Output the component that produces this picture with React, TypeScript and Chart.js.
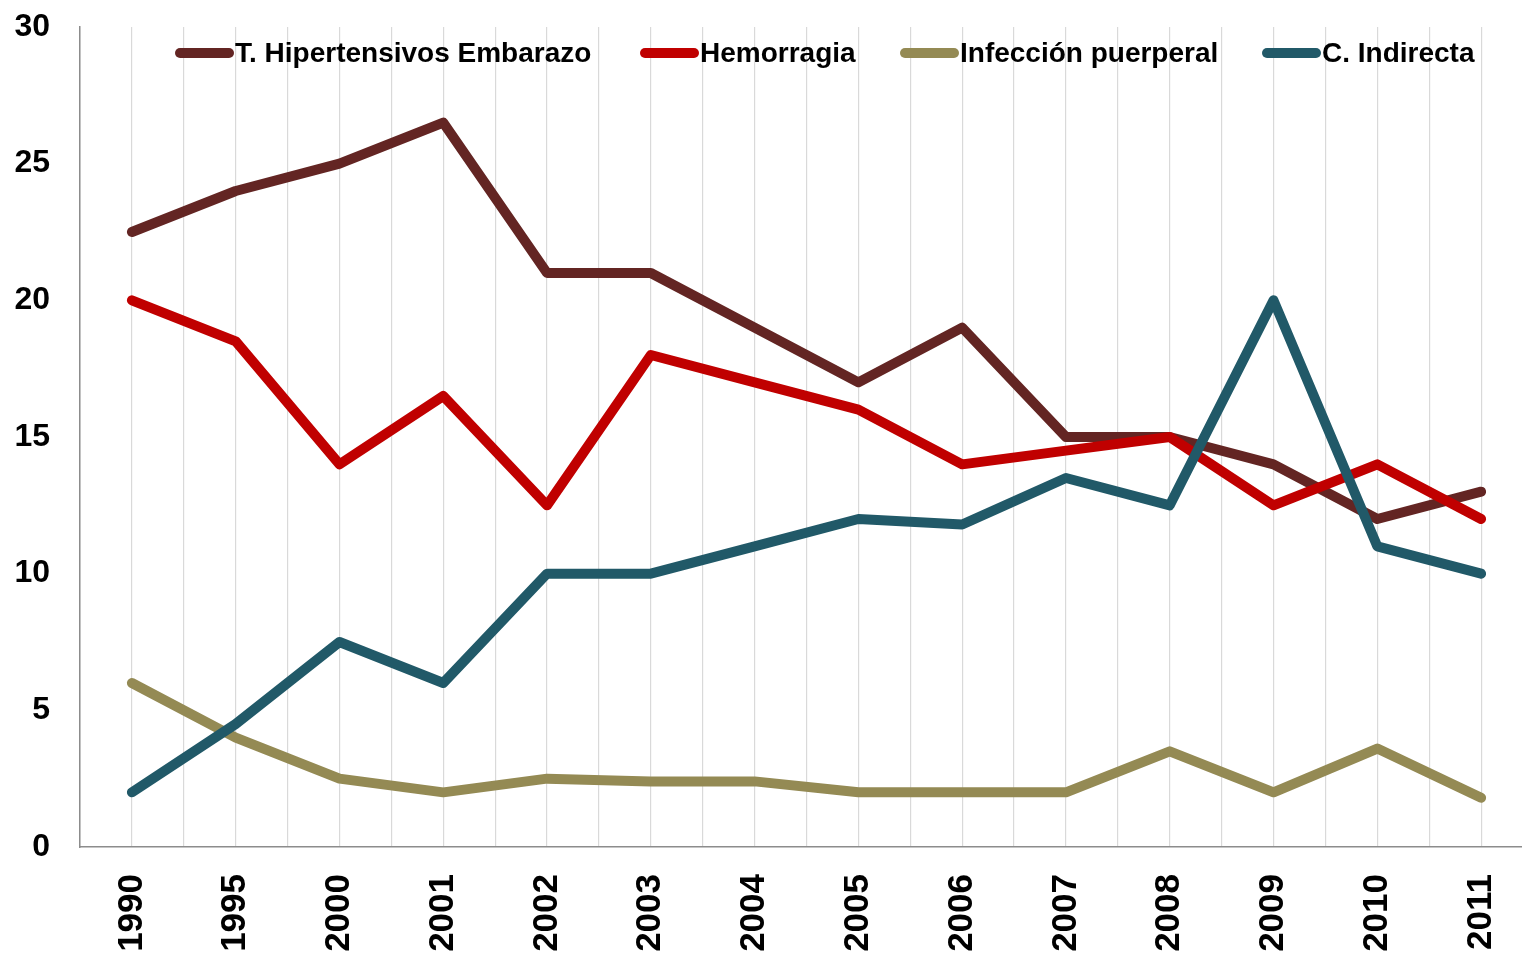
import React, { useEffect, useRef } from "react";
import { Chart, registerables } from "chart.js";

Chart.register(...registerables);

const years = ["1990", "1995", "2000", "2001", "2002", "2003", "2004", "2005", "2006", "2007", "2008", "2009", "2010", "2011"];
const hipertensivos = [22.5, 24, 25, 26.5, 21, 21, 19, 17, 19, 15, 15, 14, 12, 13];
const hemorragia = [20, 18.5, 14, 16.5, 12.5, 18, 17, 16, 14, 14.5, 15, 12.5, 14, 12];
const infeccion = [6, 4, 2.5, 2, 2.5, 2.4, 2.4, 2, 2, 2, 3.5, 2, 3.6, 1.8];
const indirecta = [2, 4.5, 7.5, 6, 10, 10, 11, 12, 11.8, 13.5, 12.5, 20, 11, 10];

const seriesNames = ["T. Hipertensivos Embarazo", "Hemorragia", "Infección puerperal", "C. Indirecta"];
const seriesColors = ["#632523", "#C00000", "#948A54", "#215968"];
const seriesData = [hipertensivos, hemorragia, infeccion, indirecta];

const yMin = 0;
const yMax = 30;
const yStep = 5;

const FONT = "'Liberation Sans', Arial, Helvetica, sans-serif";
const legendLeft = [175, 640, 900, 1262];

export default function App() {
  const canvasRef = useRef<HTMLCanvasElement | null>(null);

  useEffect(() => {
    if (!canvasRef.current) return;
    const zeroPad = (axis: any) => {
      axis.paddingTop = 0;
      axis.paddingBottom = 0;
      axis.paddingLeft = 0;
      axis.paddingRight = 0;
    };
    const chart = new Chart(canvasRef.current, {
      type: "line",
      data: {
        labels: years,
        datasets: seriesData.map((d, i) => ({
          label: seriesNames[i],
          data: d,
          borderColor: seriesColors[i],
          backgroundColor: seriesColors[i],
          borderWidth: 10,
          borderCapStyle: "round" as const,
          borderJoinStyle: "round" as const,
          pointRadius: 0,
          tension: 0,
          order: seriesData.length - 1 - i,
          xAxisID: "x",
        })),
      },
      options: {
        responsive: false,
        animation: false,
        layout: { padding: { top: 27, left: 14, right: 2, bottom: 0 } },
        plugins: { legend: { display: false }, tooltip: { enabled: false } },
        scales: {
          x: {
            type: "category",
            offset: true,
            grid: { display: false, drawTicks: false },
            border: { display: true, color: "#8C8C8C", width: 1.5 },
            ticks: {
              minRotation: 90,
              maxRotation: 90,
              padding: 27,
              color: "#000",
              font: { family: FONT, size: 35, weight: "bold" },
            },
            afterFit: (axis: any) => {
              axis.height = 109;
              zeroPad(axis);
            },
          } as any,
          xg: {
            type: "linear",
            position: "bottom",
            min: -0.5,
            max: years.length - 0.5,
            ticks: { display: false, stepSize: 0.5 },
            grid: { display: true, color: "#D9D9D9", lineWidth: 1.2, drawTicks: false },
            border: { display: false },
            afterFit: (axis: any) => {
              axis.height = 0;
              zeroPad(axis);
            },
          } as any,
          y: {
            min: yMin,
            max: yMax,
            ticks: {
              stepSize: yStep,
              padding: 30,
              color: "#000",
              font: { family: FONT, size: 32, weight: "bold" },
            },
            grid: { display: false, drawTicks: false },
            border: { display: true, color: "#8C8C8C", width: 1.5 },
            afterFit: (axis: any) => {
              axis.width = 66;
              zeroPad(axis);
            },
          } as any,
        },
      },
    });
    return () => chart.destroy();
  }, []);

  return (
    <div
      style={{
        position: "fixed",
        left: 0,
        top: 0,
        width: 1522,
        height: 956,
        overflow: "hidden",
        background: "#fff",
      }}
    >
      <canvas ref={canvasRef} width={1535} height={956} style={{ display: "block" }} />
      {seriesNames.map((name, i) => (
        <div
          key={name}
          style={{
            position: "absolute",
            left: legendLeft[i],
            top: 39,
            height: 28,
            display: "flex",
            alignItems: "center",
            fontFamily: FONT,
            fontWeight: "bold",
            fontSize: 28,
            lineHeight: "28px",
            color: "#000",
            whiteSpace: "nowrap",
          }}
        >
          <span
            style={{
              display: "inline-block",
              width: 59,
              height: 10,
              borderRadius: 5,
              background: seriesColors[i],
              marginRight: 1,
            }}
          />
          <span>{name}</span>
        </div>
      ))}
    </div>
  );
}
